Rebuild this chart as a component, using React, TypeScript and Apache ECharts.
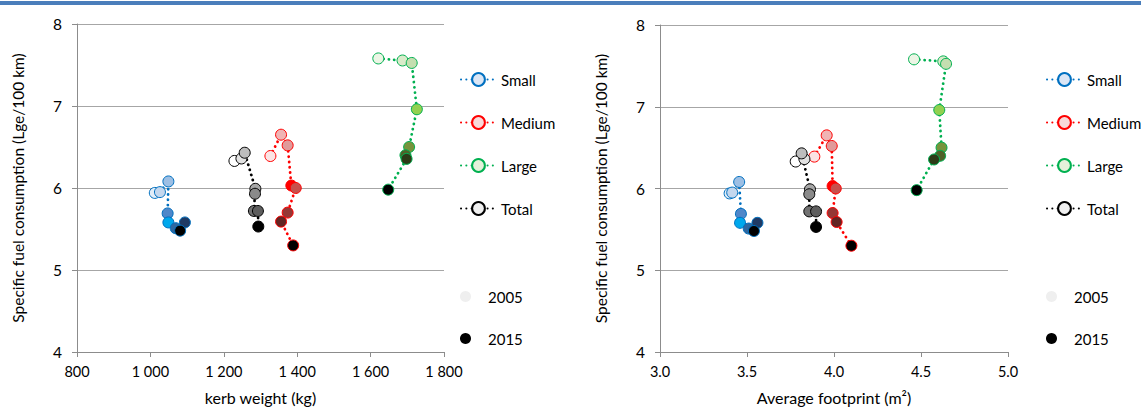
import React, { useEffect, useRef } from "react";
import * as echarts from "echarts";

// ---- data (order = year order, 2005 first, 2015 last) ----
const kerbSmall = [1012, 1026, 1049, 1047, 1049, 1069, 1094, 1081];
const footSmall = [3.40, 3.415, 3.455, 3.465, 3.46, 3.51, 3.56, 3.54];
const fuelSmall = [5.94, 5.95, 6.08, 5.69, 5.58, 5.51, 5.58, 5.48];

const kerbMedium = [1327, 1356, 1374, 1384, 1396, 1374, 1356, 1389];
const footMedium = [3.887, 3.958, 3.987, 3.992, 4.01, 3.992, 4.015, 4.10];
const fuelMedium = [6.39, 6.65, 6.52, 6.03, 6.0, 5.7, 5.59, 5.3];

const kerbLarge = [1621, 1687, 1712, 1726, 1705, 1695, 1698, 1648];
const footLarge = [4.46, 4.628, 4.644, 4.605, 4.618, 4.61, 4.575, 4.475];
const fuelLarge = [7.58, 7.555, 7.525, 6.96, 6.5, 6.4, 6.355, 5.98];

const kerbTotal = [1229, 1248, 1257, 1286, 1285, 1282, 1293, 1294];
const footTotal = [3.78, 3.83, 3.814, 3.862, 3.858, 3.858, 3.897, 3.897];
const fuelTotal = [6.33, 6.36, 6.43, 5.99, 5.93, 5.72, 5.72, 5.53];

const seriesNames = ["Small", "Medium", "Large", "Total"];
const yearNames = ["2005", "2015"];

const xTicksKerb = { min: 800, max: 1800, interval: 200 };
const xTicksFoot = { min: 3.0, max: 5.0, interval: 0.5 };
const yTicks = { min: 4, max: 8, interval: 1 };

// ---- styles ----
const FONT = 'Lato, "Noto Sans", sans-serif';
const lineColors = ["#0070c0", "#ff0000", "#00b050", "#000000"];
const legendFills = ["#dbe6f5", "#f8dada", "#e4f1da", "#f0f0f0"];
const pointColors = [
  ["#e2edf8", "#c3d7ee", "#9dbfe4", "#4f87c9", "#00a8ec", "#2f679f", "#1f3a64", "#000000"],
  ["#fbe4e4", "#f0b4b4", "#e09a9a", "#ff0000", "#c8504c", "#953735", "#632523", "#000000"],
  ["#ecf5e5", "#d9ebca", "#c4deb0", "#92d050", "#77933c", "#4f6228", "#2c3b17", "#000000"],
  ["#ffffff", "#e2e2e2", "#bdbdbd", "#a6a6a6", "#8a8a8a", "#727272", "#5e5e5e", "#000000"],
];

const kerbData = [kerbSmall, kerbMedium, kerbLarge, kerbTotal];
const footData = [footSmall, footMedium, footLarge, footTotal];
const fuelData = [fuelSmall, fuelMedium, fuelLarge, fuelTotal];

function fmtThousands(v: number) {
  if (v >= 1000) {
    const th = Math.floor(v / 1000);
    const rest = String(v % 1000).padStart(3, "0");
    return th + " " + rest;
  }
  return String(v);
}

function makeSeries(xs: number[][], gridIdx: number) {
  return seriesNames.map((name, i) => ({
    type: "line",
    name,
    xAxisIndex: gridIdx,
    yAxisIndex: gridIdx,
    symbol: "circle",
    symbolSize: 11,
    showSymbol: true,
    emphasis: { disabled: true },
    lineStyle: { color: lineColors[i], width: 2.8, type: [0.1, 5.2], cap: "round" },
    itemStyle: { color: legendFills[i], borderColor: lineColors[i], borderWidth: 1, opacity: 1 },
    z: 2 + i,
    data: xs[i].map((x, k) => ({
      value: [x, fuelData[i][k]],
      itemStyle: { color: pointColors[i][k] },
    })),
  }));
}

const axisCommon = {
  axisLine: { show: true, lineStyle: { color: "#8c8c8c", width: 1 } },
  axisTick: { show: true, length: 5, lineStyle: { color: "#8c8c8c" } },
  axisLabel: { color: "#000", fontSize: 14.5, fontFamily: FONT },
  nameTextStyle: { color: "#000", fontSize: 16, fontFamily: FONT },
};

function makeYAxis(gridIndex: number) {
  return {
    type: "value",
    gridIndex,
    ...yTicks,
    ...axisCommon,
    axisLabel: { ...axisCommon.axisLabel, fontSize: 15.5, margin: 15 },
    splitLine: { show: true, lineStyle: { color: "#a6a6a6", width: 1 } },
    name: "Specific fuel consumption (Lge/100 km)",
    nameLocation: "middle",
    nameGap: 51,
    nameTextStyle: { ...axisCommon.nameTextStyle, fontSize: 15.5 },
  };
}

function makeLegends(left: number) {
  const text = { color: "#000", fontSize: 15, fontFamily: FONT, lineHeight: 15 };
  return [
    {
      orient: "vertical",
      left,
      top: 67,
      itemWidth: 35,
      itemHeight: 16,
      itemGap: 28,
      selectedMode: false,
      data: seriesNames,
      textStyle: text,
    },
    {
      orient: "vertical",
      left,
      top: 284,
      itemWidth: 35,
      itemHeight: 11,
      itemGap: 27,
      selectedMode: false,
      data: yearNames,
      textStyle: text,
    },
  ];
}

export default function App() {
  const ref = useRef<HTMLDivElement>(null);
  useEffect(() => {
    if (!ref.current) return;
    const chart = echarts.init(ref.current, null, { renderer: "svg" });
    const option: any = {
      animation: false,
      backgroundColor: "#ffffff",
      textStyle: { fontFamily: FONT },
      grid: [
        { left: 77, top: 24, width: 367, height: 331 },
        { left: 660, top: 25, width: 348, height: 331 },
      ],
      xAxis: [
        {
          type: "value",
          gridIndex: 0,
          ...xTicksKerb,
          ...axisCommon,
          axisLabel: { ...axisCommon.axisLabel, margin: 12, formatter: (v: number) => fmtThousands(v) },
          splitLine: { show: false },
          name: "kerb weight (kg)",
          nameLocation: "middle",
          nameGap: 37,
        },
        {
          type: "value",
          gridIndex: 1,
          ...xTicksFoot,
          ...axisCommon,
          axisLabel: { ...axisCommon.axisLabel, margin: 12, formatter: (v: number) => v.toFixed(1) },
          splitLine: { show: false },
          name: "Average footprint (m²)",
          nameLocation: "middle",
          nameGap: 37,
        },
      ],
      yAxis: [makeYAxis(0), makeYAxis(1)],
      legend: [...makeLegends(455), ...makeLegends(1041)],
      graphic: [
        { type: "rect", shape: { x: 0, y: 1, width: 1141, height: 4 }, style: { fill: "#4a7ebb" }, silent: true },
      ],
      series: [
        ...makeSeries(kerbData, 0),
        ...makeSeries(footData, 1),
        { type: "scatter", name: "2005", xAxisIndex: 0, yAxisIndex: 0, data: [], symbol: "circle", itemStyle: { color: "#efefef", opacity: 1 } },
        { type: "scatter", name: "2015", xAxisIndex: 0, yAxisIndex: 0, data: [], symbol: "circle", itemStyle: { color: "#000000", opacity: 1 } },
      ],
    };
    chart.setOption(option);
    return () => chart.dispose();
  }, []);
  return (
    <div
      ref={ref}
      style={{ position: "fixed", left: 0, top: 0, width: 1141, height: 410, background: "#fff" }}
    />
  );
}
